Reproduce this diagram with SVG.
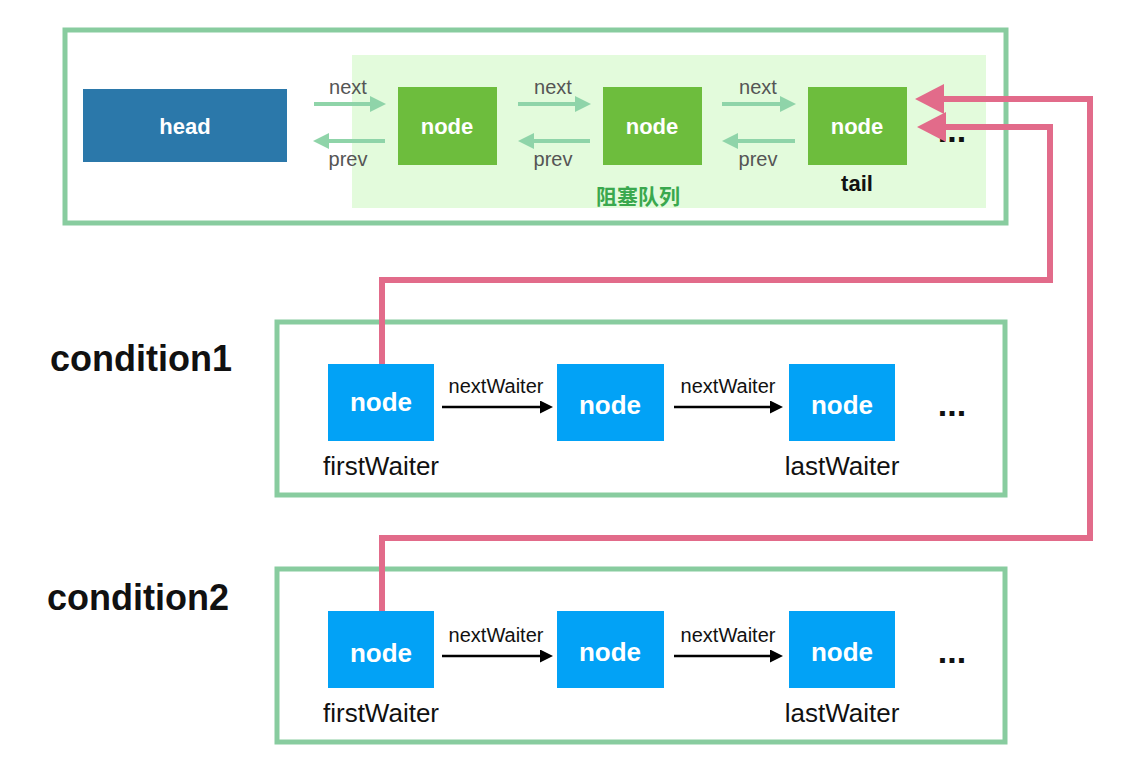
<svg xmlns="http://www.w3.org/2000/svg" width="1124" height="770" viewBox="0 0 1124 770">
<style>
.box{fill:#ffffff;stroke:#88cc9f;stroke-width:5}
.qbg{fill:#e3fbdc}
.gnode{fill:#6dbd3d}
.bnode{fill:#02a2f6}
.head{fill:#2b78aa}
.wt{fill:#ffffff;font-family:"Liberation Sans",Arial,sans-serif;font-weight:bold;text-anchor:middle}
.lbl{fill:#555555;font-family:"Liberation Sans",Arial,sans-serif;font-size:20px;text-anchor:middle}
.blk{fill:#111111;font-family:"Liberation Sans",Arial,sans-serif;text-anchor:middle}
.cond{fill:#111111;font-family:"Liberation Sans",Arial,sans-serif;font-weight:bold;font-size:36px}
.garr{fill:none;stroke:#8fd4a9;stroke-width:4;marker-end:url(#gh)}
.karr{fill:none;stroke:#000000;stroke-width:2.5;marker-end:url(#kh)}
.rarr{fill:none;stroke:#e26b8a;stroke-width:6;stroke-linejoin:miter;marker-end:url(#rh)}
</style>
<defs>
<marker id="gh" markerUnits="userSpaceOnUse" markerWidth="16" markerHeight="16" viewBox="0 0 16 16" refX="0" refY="8" orient="auto"><path d="M0,0 L16,8 L0,16 z" fill="#8fd4a9"/></marker>
<marker id="kh" markerUnits="userSpaceOnUse" markerWidth="13" markerHeight="13" viewBox="0 0 13 13" refX="0" refY="6.5" orient="auto"><path d="M0,0 L13,6.5 L0,13 z" fill="#000000"/></marker>
<marker id="rh" markerUnits="userSpaceOnUse" markerWidth="29" markerHeight="30" viewBox="0 0 29 30" refX="0" refY="15" orient="auto"><path d="M0,0 L29,15 L0,30 z" fill="#e26b8a"/></marker>
</defs>
<rect width="1124" height="770" fill="#ffffff"/>

<g id="sync-queue">
<rect class="box" x="65" y="30" width="941" height="193"/>
<rect class="qbg" x="352" y="55" width="634" height="153"/>
<text x="638" y="204" font-family="'Noto Sans CJK SC',sans-serif" font-size="21" font-weight="bold" fill="#3aa84e" text-anchor="middle">阻塞队列</text>
</g>
<g id="head"><rect class="head" x="83" y="89" width="204" height="73"/><text class="wt" x="185" y="134" font-size="22">head</text></g>
<g id="qnode1"><rect class="gnode" x="398" y="87" width="99" height="78"/><text class="wt" x="447" y="134" font-size="22">node</text></g>
<g id="qnode2"><rect class="gnode" x="603" y="87" width="99" height="78"/><text class="wt" x="652" y="134" font-size="22">node</text></g>
<g id="qnode3"><rect class="gnode" x="808" y="87" width="99" height="78"/><text class="wt" x="857" y="134" font-size="22">node</text><text class="blk" x="857" y="191" font-size="22" font-weight="bold">tail</text></g>
<g id="qmore"><text class="blk" x="952" y="142" font-size="34" font-weight="bold">...</text></g>

<g id="condition1">
<rect class="box" x="277" y="322" width="728" height="173"/>
<text class="cond" x="50" y="371">condition1</text>
</g>
<g id="c1n1"><rect class="bnode" x="328" y="364" width="106" height="77"/><text class="wt" x="381" y="411" font-size="26">node</text><text class="blk" x="381" y="475" font-size="26">firstWaiter</text></g>
<g id="c1n2"><rect class="bnode" x="557" y="364" width="107" height="77"/><text class="wt" x="610" y="414" font-size="26">node</text></g>
<g id="c1n3"><rect class="bnode" x="789" y="364" width="106" height="77"/><text class="wt" x="842" y="414" font-size="26">node</text><text class="blk" x="842" y="475" font-size="26">lastWaiter</text></g>
<g id="c1more"><text class="blk" x="952" y="416" font-size="34" font-weight="bold">...</text></g>

<g id="condition2">
<rect class="box" x="277" y="569" width="728" height="173"/>
<text class="cond" x="47" y="610">condition2</text>
</g>
<g id="c2n1"><rect class="bnode" x="328" y="611" width="106" height="77"/><text class="wt" x="381" y="662" font-size="26">node</text><text class="blk" x="381" y="722" font-size="26">firstWaiter</text></g>
<g id="c2n2"><rect class="bnode" x="557" y="611" width="107" height="77"/><text class="wt" x="610" y="661" font-size="26">node</text></g>
<g id="c2n3"><rect class="bnode" x="789" y="611" width="106" height="77"/><text class="wt" x="842" y="661" font-size="26">node</text><text class="blk" x="842" y="722" font-size="26">lastWaiter</text></g>
<g id="c2more"><text class="blk" x="952" y="663" font-size="34" font-weight="bold">...</text></g>

<g id="connectors">
<path class="garr" d="M314,104 H370"/>
<text class="lbl" x="348" y="94">next</text>
<path class="garr" d="M385,141 H329"/>
<text class="lbl" x="348" y="166">prev</text>
<path class="garr" d="M518,104 H575"/>
<text class="lbl" x="553" y="94">next</text>
<path class="garr" d="M590,141 H534"/>
<text class="lbl" x="553" y="166">prev</text>
<path class="garr" d="M722,104 H780"/>
<text class="lbl" x="758" y="94">next</text>
<path class="garr" d="M795,141 H738"/>
<text class="lbl" x="758" y="166">prev</text>

<path class="karr" d="M442,407 H540"/>
<text class="blk" x="496" y="393" font-size="20">nextWaiter</text>
<path class="karr" d="M674,407 H770"/>
<text class="blk" x="728" y="393" font-size="20">nextWaiter</text>
<path class="karr" d="M442,656 H540"/>
<text class="blk" x="496" y="642" font-size="20">nextWaiter</text>
<path class="karr" d="M674,656 H770"/>
<text class="blk" x="728" y="642" font-size="20">nextWaiter</text>

<path class="rarr" d="M382,364 V280 H1050 V127 H946"/>
<path class="rarr" d="M382,611 V538 H1090 V99 H944"/>
</g>
</svg>
